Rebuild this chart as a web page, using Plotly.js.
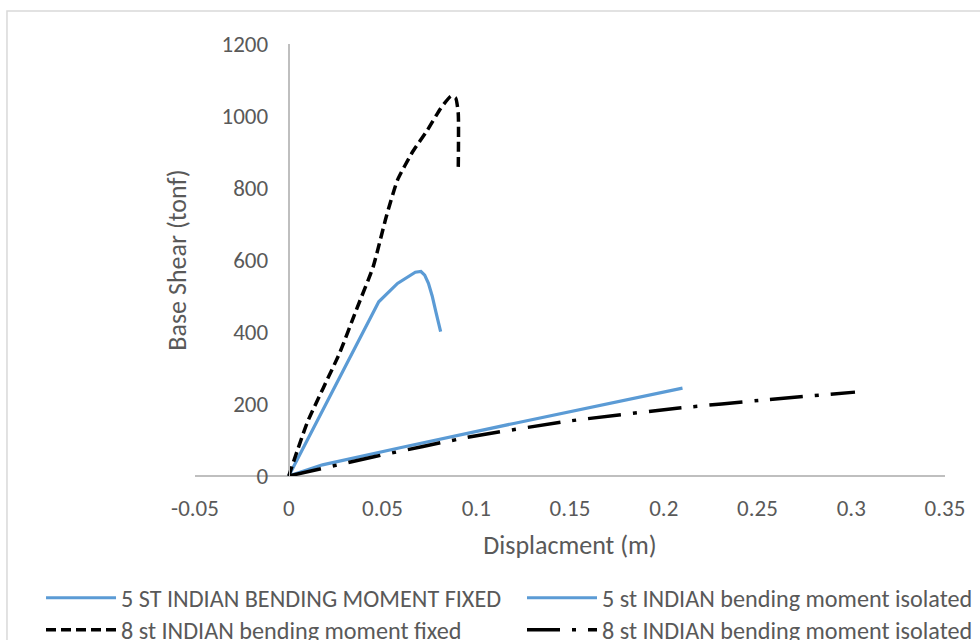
<!DOCTYPE html>
<html><head><meta charset="utf-8">
<script src="https://cdn.plot.ly/plotly-3.0.1.min.js"></script>
<style>html,body{margin:0;padding:0;background:#fff}#chart{width:980px;height:640px}</style>
</head><body><div id="chart"></div>
<script>
// 5 ST fixed
var fixed5_x = [0, 0.048, 0.058, 0.064, 0.0675, 0.0705, 0.0725, 0.0745, 0.0765, 0.0785, 0.081];
var fixed5_y = [0, 484, 535, 556, 566, 568, 558, 535, 500, 455, 401];
// 5 st isolated
var iso5_x = [0, 0.018, 0.06, 0.12, 0.21];
var iso5_y = [0, 31, 79, 146, 244];
// 8 st fixed
var fixed8_x = [0, 0.01, 0.027, 0.036, 0.045, 0.052, 0.058, 0.066, 0.074, 0.081, 0.0865, 0.089, 0.0904, 0.0904];
var fixed8_y = [0, 150, 340, 461, 581, 720, 822, 900, 961, 1021, 1055, 1050, 1007, 850];
// 8 st isolated
var iso8_x = [0, 0.046, 0.097, 0.15, 0.207, 0.255, 0.302];
var iso8_y = [0, 54, 109, 153, 188, 212, 233];

var names = ['5 ST INDIAN BENDING MOMENT FIXED', '5 st INDIAN bending moment isolated',
             '8 st INDIAN bending moment fixed', '8 st INDIAN bending moment isolated'];
var xTicks = [-0.05, 0, 0.05, 0.1, 0.15, 0.2, 0.25, 0.3, 0.35];
var xTickText = ['-0.05', '0', '0.05', '0.1', '0.15', '0.2', '0.25', '0.3', '0.35'];

var FONT = "Carlito, 'Liberation Sans Narrow', 'Open Sans', sans-serif";
var blue = '#5B9BD5';
var traces = [
  {x: fixed5_x, y: fixed5_y, name: names[0], legend: 'legend', mode: 'lines', line: {color: blue, width: 3.2}},
  {x: iso5_x, y: iso5_y, name: names[1], legend: 'legend2', mode: 'lines', line: {color: blue, width: 3.2}},
  {x: fixed8_x, y: fixed8_y, name: names[2], legend: 'legend3', mode: 'lines', line: {color: '#000', width: 3.5, dash: '10px,5px', shape: 'spline', smoothing: 0.5}},
  {x: iso8_x, y: iso8_y, name: names[3], legend: 'legend4', mode: 'lines', line: {color: '#000', width: 3.5, dash: '33px,12px,4px,12px', shape: 'spline', smoothing: 0.5}}
];

var legFont = {family: FONT, size: 24.2, color: '#595959'};
function leg(x, y) {
  return {orientation: 'v', x: x, xanchor: 'left', y: y, yanchor: 'middle',
          itemwidth: 70, tracegroupgap: 0, bgcolor: 'rgba(0,0,0,0)', font: legFont};
}
var layout = {
  width: 980, height: 640,
  margin: {l: 195, r: 35, t: 44, b: 164, autoexpand: false},
  paper_bgcolor: '#fff', plot_bgcolor: '#fff',
  font: {family: FONT, color: '#595959', size: 23},
  showlegend: true,
  legend: leg(-0.2053, -0.2824),
  legend2: leg(0.436, -0.2824),
  legend3: leg(-0.2053, -0.3565),
  legend4: leg(0.436, -0.3565),
  xaxis: {range: [-0.05, 0.35], tickvals: xTicks, ticktext: xTickText,
          showgrid: false, zeroline: true, zerolinecolor: '#BFBFBF', zerolinewidth: 1.5,
          showline: false, ticks: '', ticklabelstandoff: 16,
          title: {text: 'Displacment (m)', font: {size: 26, color: '#595959'}, standoff: 14}},
  yaxis: {range: [0, 1200], dtick: 200, showgrid: false, zeroline: true, zerolinecolor: '#BFBFBF', zerolinewidth: 1.5,
          anchor: 'free', position: 0.125, showline: true, linecolor: '#BFBFBF', linewidth: 1.5,
          ticks: '', ticklabelstandoff: 16,
          title: {text: 'Base Shear (tonf)', font: {size: 26, color: '#595959'}, standoff: 26}},
  shapes: [{type: 'rect', xref: 'paper', yref: 'paper', x0: -0.2507, x1: 1.2, y0: -0.6, y1: 1.0764,
            line: {color: '#D9D9D9', width: 1.5}, fillcolor: 'rgba(0,0,0,0)', layer: 'below'}]
};
Plotly.newPlot('chart', traces, layout, {displayModeBar: false, staticPlot: true});
</script></body></html>
